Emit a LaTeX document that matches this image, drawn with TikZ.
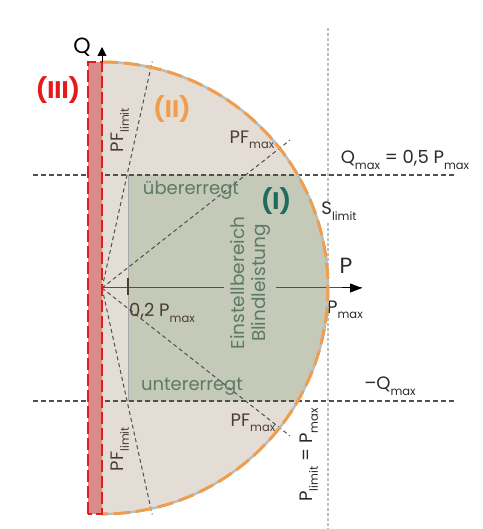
\documentclass[tikz,border=0pt]{standalone}
\usepackage{fontspec}
\setmainfont{Poppins}
\usetikzlibrary{arrows.meta}
\definecolor{beigefill}{HTML}{E4DDD6}
\definecolor{greenfill}{HTML}{C4C9B8}
\definecolor{stripfill}{HTML}{D98C8A}
\definecolor{stripred}{HTML}{E31B1B}
\definecolor{arcorange}{HTML}{F09E4E}
\definecolor{arcgray}{HTML}{B4C0C8}
\definecolor{dashgray}{HTML}{4F4F4F}
\definecolor{vertgray}{HTML}{BDBDBD}
\definecolor{browntext}{HTML}{4B3D33}
\definecolor{greentext}{HTML}{5C7A66}
\definecolor{tealtext}{HTML}{1F6B5E}
\definecolor{darktext}{HTML}{2A2A2A}
\newcommand\lo[1]{\raisebox{-0.55ex}{\fontsize{11.5}{12}\selectfont #1}}
\tikzset{
  lbl/.style={inner sep=1pt, font=\fontsize{18}{21}\selectfont},
  pflbl/.style={lbl, text=browntext},
  roman/.style={inner sep=1pt, font=\fontsize{24}{26}\selectfont\bfseries},
  limitline/.style={dashgray, line width=1.3pt, dash pattern=on 5pt off 3pt},
  pfline/.style={dashgray, line width=1pt, dash pattern=on 4pt off 3pt},
  vertline/.style={vertgray, line width=2pt, dash pattern=on 3pt off 2pt},
  tickmark/.style={browntext, line width=2pt},
}
\begin{document}
\begin{tikzpicture}[x=1pt,y=1pt]
\useasboundingbox (-102,-241) rectangle (380,288);
\coordinate (O) at (0,0);
\coordinate (top) at (0,226);
\coordinate (bot) at (0,-226);
% regions
\fill[beigefill] (top) arc[start angle=90,end angle=-90,radius=226pt] -- cycle;
\fill[greenfill] (26,113) -- (195.7,113) arc[start angle=30,end angle=-30,radius=226pt] -- (26,-113) -- cycle;
\draw[line width=0.6pt, color=gray!70] (26,113) -- (26,-113);
% limit lines
\coordinate (qmaxL) at (-69,113);
\coordinate (qmaxR) at (353,113);
\coordinate (qminL) at (-69,-113);
\coordinate (qminR) at (353,-113);
\draw[limitline] (qmaxL) -- (qmaxR);
\draw[limitline] (qminL) -- (qminR);
\coordinate (vtop) at (226,260);
\coordinate (vbot) at (226,-241);
\draw[vertline] (vtop) -- (vbot);
% PF lines
\coordinate (pflu) at (77.5:232);
\coordinate (pfll) at (-77.5:232);
\coordinate (pfmu) at (38.2:239);
\coordinate (pfml) at (-38.2:239);
\draw[pfline] (O) -- (pflu);
\draw[pfline] (O) -- (pfll);
\draw[pfline] (O) -- (pfmu);
\draw[pfline] (O) -- (pfml);
% P axis
\coordinate (ptip) at (260,0);
\draw[dashgray, line width=1pt] (O) -- (ptip);
\draw[black, line width=1pt, -{Triangle[length=12pt,width=9pt]}] (240,0) -- (ptip);
\draw[tickmark] (26,10) -- (26,-7);
\draw[tickmark, black] (226,8) -- (226,-6);
% text region
\node[rotate=90, fill=greenfill, align=center, inner xsep=2pt, inner ysep=6pt, text=greentext, font=\fontsize{18.5}{21}\selectfont] (einst) at (148,5) {Einstellbereich\\Blindleistung};
\node[lbl, text=greentext] (ueber) at (89,98) {übererregt};
\node[lbl, text=greentext] (unter) at (90,-99) {untererregt};
\node[roman, text=tealtext] (r1) at (174,87) {(I)};
\node[roman, text=arcorange] (r2) at (70,179) {(II)};
\node[roman, text=stripred] (r3) at (-44,198) {(III)};
\node[pflbl, rotate=90] (pfl1) at (18,158) {PF\lo{limit}};
\node[pflbl, rotate=90] (pfl2) at (18,-161) {PF\lo{limit}};
\node[pflbl] (pfm1) at (150,148) {PF\lo{max}};
\node[pflbl] (pfm2) at (151,-135) {PF\lo{max}};
\node[lbl, text=darktext] (qmax) at (303,128) {Q\lo{max} = 0,5 P\lo{max}};
\node[lbl, text=darktext] (qmin) at (288,-98) {–Q\lo{max}};
\node[lbl, text=darktext, fill=white] (slim) at (237,77) {S\lo{limit}};
\node[lbl, text=darktext, font=\fontsize{22}{24}\selectfont] (plab) at (244,22) {P};
\node[lbl, text=darktext] (pmax) at (243,-22) {P\lo{max}};
\node[lbl, text=browntext] (p02) at (60,-25) {0,2 P\lo{max}};
\node[lbl, text=darktext, rotate=90] (plim) at (207,-167) {P\lo{limit} = P\lo{max}};
% arc
\draw[arcgray, line width=2.5pt] (top) arc[start angle=90,end angle=-90,radius=226pt];
\draw[arcorange, line width=3pt, dash pattern=on 16pt off 6pt] (top) arc[start angle=90,end angle=-90,radius=226pt];
% red strip
\draw[stripred, fill=stripfill, line width=2.5pt, dash pattern=on 12pt off 4pt] (-14,-226) rectangle (top);
% Q axis
\coordinate (qtip) at (0,241);
\draw[black, line width=1pt, -{Triangle[length=9pt,width=9pt]}] (top) -- (qtip);
\node[inner sep=0pt, font=\fontsize{22}{24}\selectfont] (qlab) at (-20,241) {Q};
\end{tikzpicture}
\end{document}
